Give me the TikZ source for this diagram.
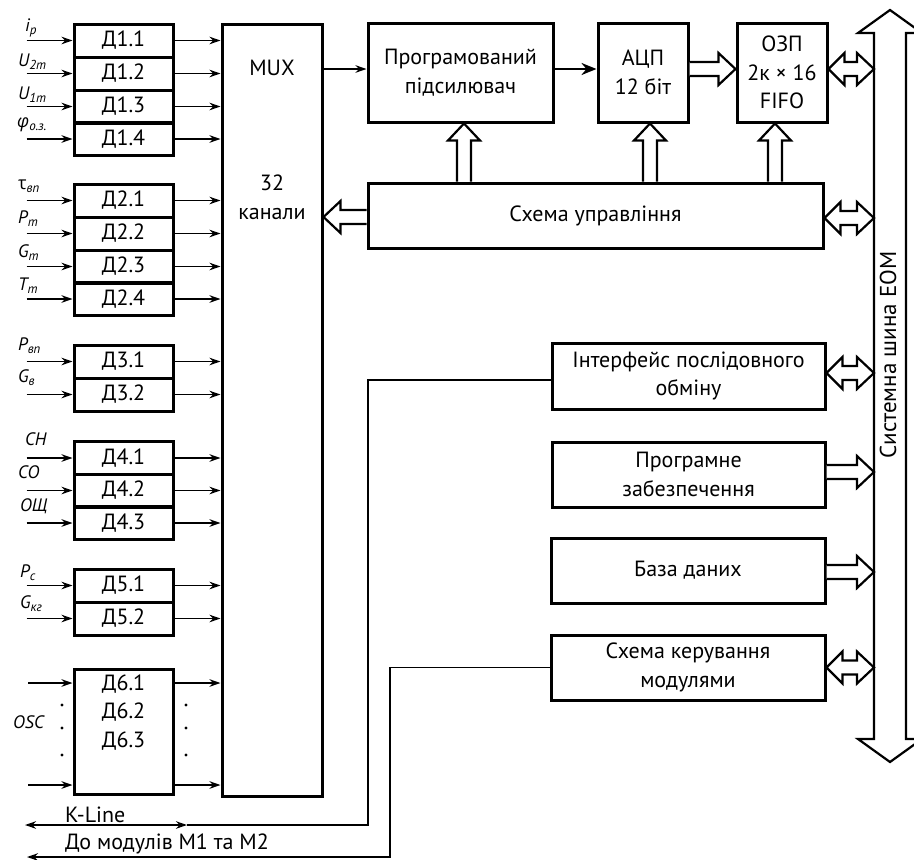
\documentclass[tikz,border=0pt]{standalone}
\usepackage{fontspec}
\setmainfont{PT Sans}
\newfontfamily\grk{Open Sans}
\usetikzlibrary{arrows.meta,calc}
\newcommand\sub[1]{\raisebox{-0.35ex}{\fontsize{13}{13}\selectfont #1}}
% hollow arrows
\newcommand\arrR[2]{\draw[hollow] let \p1=(#1), \p2=(#2) in (\x1,\y1+7pt) -- (\x2-17pt,\y1+7pt) -- (\x2-17pt,\y1+16pt) -- (\x2,\y1) -- (\x2-17pt,\y1-16pt) -- (\x2-17pt,\y1-7pt) -- (\x1,\y1-7pt);}
\newcommand\arrL[2]{\draw[hollow] let \p1=(#1), \p2=(#2) in (\x1,\y1+7pt) -- (\x2+17pt,\y1+7pt) -- (\x2+17pt,\y1+16pt) -- (\x2,\y1) -- (\x2+17pt,\y1-16pt) -- (\x2+17pt,\y1-7pt) -- (\x1,\y1-7pt);}
\newcommand\arrU[3]{\draw[hollow] let \p1=(#2), \p2=(#3) in (#1pt-7pt,\y1) -- (#1pt-7pt,\y2-17pt) -- (#1pt-16pt,\y2-17pt) -- (#1pt,\y2) -- (#1pt+16pt,\y2-17pt) -- (#1pt+7pt,\y2-17pt) -- (#1pt+7pt,\y1);}
\newcommand\arrLR[2]{\draw[hollow] let \p1=(#1), \p2=(#2) in (\x1,\y1) -- (\x1+16pt,\y1+16pt) -- (\x1+16pt,\y1+7pt) -- (\x2-17pt,\y1+7pt) -- (\x2-17pt,\y1+16pt) -- (\x2,\y1) -- (\x2-17pt,\y1-16pt) -- (\x2-17pt,\y1-7pt) -- (\x1+16pt,\y1-7pt) -- (\x1+16pt,\y1-16pt) -- cycle;}
\tikzset{
 box/.style={draw, line width=3pt, inner sep=0pt, font=\fontsize{22}{28.5}\selectfont, align=center},
 dbox/.style={box, minimum width=99pt, minimum height=33pt},
 sig/.style={line width=1.7pt, -{Stealth[length=11pt,width=7.5pt]}},
 wire/.style={line width=1.7pt},
 hollow/.style={draw, line width=2.2pt, fill=white, line join=miter},
 lbl/.style={font=\fontsize{18}{18}\selectfont\itshape, anchor=base west, inner sep=0pt},
 txt/.style={font=\fontsize{22}{28.5}\selectfont, align=center, inner sep=0pt},
}
\begin{document}
\begin{tikzpicture}[x=1pt,y=1pt]
\useasboundingbox (0,0) rectangle (914,-860);
\clip (0,0) rectangle (914,-860);
% MUX
\node[box, minimum width=100pt, minimum height=772pt] (mux) at (272,-410) {};
\node[txt] (muxt) at (272,-68) {MUX};
\node[txt] (muxn) at (272,-197.5) {32\\канали};
% D boxes
\foreach \n/\y/\t in {d11/40.5/Д1.1, d12/73.5/Д1.2, d13/106.5/Д1.3, d14/139/Д1.4,
  d21/200.5/Д2.1, d22/233.5/Д2.2, d23/266.5/Д2.3, d24/299/Д2.4,
  d31/361.5/Д3.1, d32/394.5/Д3.2,
  d41/458/Д4.1, d42/490.5/Д4.2, d43/523/Д4.3,
  d51/585.5/Д5.1, d52/618.5/Д5.2}{
  \node[dbox] (\n) at (123.5,-\y) {\t};
  \coordinate (in-\n) at ($(\n.west)+(-46,0)$);
  \draw[sig] (in-\n) -- (\n.west);
  \draw[sig] (\n.east) -- (\n.east -| mux.west);
}
\node[box, minimum width=99pt, minimum height=125pt] (d6) at (123.5,-731.5) {};
\node[txt] (d6t) at (123.5,-712.5) {Д6.1\\Д6.2\\Д6.3};
\coordinate (d6a) at (28,-683);
\coordinate (d6b) at (28,-785);
\draw[sig] (d6a) -- (d6a -| d6.west);
\draw[sig] (d6b) -- (d6b -| d6.west);
\draw[sig] (d6a -| d6.east) -- (d6a -| mux.west);
\draw[sig] (d6b -| d6.east) -- (d6b -| mux.west);
\foreach \y in {705,728,755}{\fill (62,-\y) circle (1.6pt); \fill (186,-\y) circle (1.6pt);}
% input labels
\node[lbl] (l11) at (25,-31) {i\sub{p}};
\node[lbl] (l12) at (18,-66) {U\sub{2m}};
\node[lbl] (l13) at (18,-99) {U\sub{1m}};
\node[lbl] (l14) at (17,-127) {{\grk φ}\sub{о.з.}};
\node[lbl] (l21) at (18,-189) {{\grk\upshape τ}\sub{вп}};
\node[lbl] (l22) at (18,-223) {P\sub{m}};
\node[lbl] (l23) at (18,-257) {G\sub{m}};
\node[lbl] (l24) at (18,-290) {T\sub{m}};
\node[lbl] (l31) at (18,-350) {P\sub{вп}};
\node[lbl] (l32) at (18,-382) {G\sub{в}};
\node[lbl] (l41) at (25,-445) {CH};
\node[lbl] (l42) at (18,-478) {CO};
\node[lbl] (l43) at (20,-511) {ОЩ};
\node[lbl] (l51) at (20,-577) {P\sub{c}};
\node[lbl] (l52) at (20,-608) {G\sub{кг}};
\node[lbl, anchor=west] (l6) at (13,-722) {OSC};
% top blocks
\node[box, minimum width=185pt, minimum height=99pt] (amp) at (460.5,-72.5) {Програмований\\підсилювач};
\node[box, minimum width=90pt, minimum height=99pt] (adc) at (643,-72.5) {АЦП\\12 біт};
\node[box, minimum width=90pt, minimum height=99pt] (ram) at (782,-72.5) {ОЗП\\2к × 16\\FIFO};
\node[box, minimum width=455pt, minimum height=65pt] (ctrl) at (595.5,-215.5) {Схема управління};
\node[box, minimum width=273pt, minimum height=66pt] (iface) at (688.5,-376) {Інтерфейс послідовного\\обміну};
\node[box, minimum width=273pt, minimum height=65pt] (soft) at (688.5,-474.5) {Програмне\\забезпечення};
\node[box, minimum width=274pt, minimum height=65pt] (db) at (688,-570.5) {База даних};
\node[box, minimum width=274pt, minimum height=65pt] (modc) at (688,-667.5) {Схема керування\\модулями};
% bus
\coordinate (busL) at (874,0);
\draw[hollow] (874,-33) -- (858,-33) -- (890,-10) -- (922,-33) -- (906,-33) -- (906,-739) -- (922,-739) -- (890,-762) -- (858,-739) -- (874,-739) -- cycle;
\node[txt, rotate=90, font=\fontsize{23}{28}\selectfont] (bust) at (888,-355) {Системна шина ЕОМ};
% connectors
\coordinate (ampin) at ($(amp.west)+(0,3.5)$);
\coordinate (ampout) at ($(amp.east)+(0,3.5)$);
\draw[sig] (ampin -| mux.east) -- (ampin);
\draw[line width=2.4pt, -{Stealth[length=15pt,width=12pt]}] (ampout) -- (ampout -| adc.west);
\arrR{$(adc.east)+(0,3.5)$}{ram.west}
\arrLR{$(ram.east)+(0,3.5)$}{busL}
\arrLR{$(ctrl.east)+(0,-2.5)$}{busL}
\arrLR{$(iface.east)+(0,3)$}{busL}
\arrR{$(soft.east)+(0,2.5)$}{busL}
\arrR{$(db.east)+(0,-1.5)$}{busL}
\arrLR{modc.east}{busL}
\arrL{$(ctrl.west)+(0,-1.5)$}{mux.east}
\arrU{464}{ctrl.north}{amp.south}
\arrU{650}{ctrl.north}{adc.south}
\arrU{775}{ctrl.north}{ram.south}
% K-Line
\coordinate (kc) at (368,-825);
\coordinate (kr) at (187,-825);
\coordinate (kl) at (25,-825);
\draw[wire] ($(iface.west)+(0,-4)$) -| (kc) -- (kr);
\draw[wire, {Stealth[length=11pt,width=7.5pt]}-{Stealth[length=11pt,width=7.5pt]}] (kl) -- (kr);
\node[txt, anchor=west] (kt) at (65,-815) {K-Line};
\coordinate (mc) at (390,-857);
\coordinate (ml) at (27,-857);
\draw[sig] (modc.west) -| (mc) -- (ml);
\node[txt, anchor=west] (mt) at (65,-844) {До модулів М1 та М2};
\end{tikzpicture}
\end{document}
